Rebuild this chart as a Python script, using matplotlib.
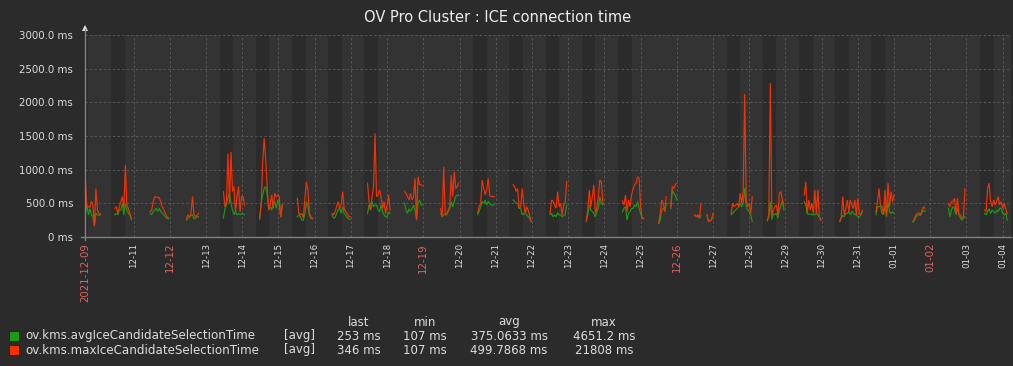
import numpy as np
import pandas as pd
import matplotlib
matplotlib.use("Agg")
import matplotlib.pyplot as plt
from matplotlib.lines import Line2D
from matplotlib.patches import Rectangle, Polygon

W, H = 1013, 366

# ---------------- data ----------------
title = "OV Pro Cluster : ICE connection time"
series_names = ["ov.kms.avgIceCandidateSelectionTime", "ov.kms.maxIceCandidateSelectionTime"]
series_colors = ["#1c9a14", "#f63100"]
legend_func = ["[avg]", "[avg]"]
stat_headers = ["last", "min", "avg", "max"]
stats_avg = ["253 ms", "107 ms", "375.0633 ms", "4651.2 ms"]
stats_max = ["346 ms", "107 ms", "499.7868 ms", "21808 ms"]

y_ticks = [0, 500, 1000, 1500, 2000, 2500, 3000]
y_tick_labels = ["0 ms", "500.0 ms", "1000.0 ms", "1500.0 ms", "2000.0 ms", "2500.0 ms", "3000.0 ms"]

x_start = "2021-12-09 15:45"
x_end = "2022-01-04 05:30"
x_tick_first = "2021-12-11"
x_tick_last = "2022-01-04"
red_days = ["12-12", "12-19", "12-26", "01-02"]
start_label = "2021-12-09"
work_start_hour = 9
work_end_hour = 18

cluster_starts = [
    "2021-12-09 16:00", "2021-12-10 11:30", "2021-12-11 11:00", "2021-12-12 11:00",
    "2021-12-13 11:30", "2021-12-14 11:30", "2021-12-15 12:30", "2021-12-16 11:30",
    "2021-12-17 11:00", "2021-12-18 11:30", "2021-12-19 11:30", "2021-12-20 12:00",
    "2021-12-21 11:30", "2021-12-22 12:00", "2021-12-23 12:00", "2021-12-24 12:00",
    "2021-12-25 12:00", "2021-12-25 20:00", "2021-12-26 12:00", "2021-12-26 20:00",
    "2021-12-27 12:00", "2021-12-28 12:00", "2021-12-29 12:30", "2021-12-30 12:00",
    "2021-12-31 12:00", "2022-01-01 12:30", "2022-01-02 12:00", "2022-01-03 12:00",
]

max_values = [
    [880, 450, 450, 440, 530, 480, 160, 720, 400, 350, 340],
    [425, 450, 350, 450, 525, 600, 420, 1070, 480, 420, 350, 280],
    [375, 400, 525, 600, 590, 590, 580, 525, 450, 400, 350, 300, 290],
    [280, 330, 300, 350, 600, 330, 300, 320, 350],
    [675, 450, 520, 1240, 500, 1265, 675, 750, 375, 600, 750, 375, 600, 600, 475],
    [280, 475, 1095, 1465, 1170, 750, 400, 475, 625, 425, 650, 600, 620, 600, 300, 475],
    [575, 350, 330, 350, 280, 575, 820, 700, 350, 300, 280],
    [350, 330, 375, 450, 525, 425, 475, 675, 425, 375, 350, 300, 300],
    [800, 525, 400, 600, 750, 1540, 600, 625, 700, 600, 425, 525, 350, 475, 625, 400],
    [675, 650, 600, 550, 650, 550, 600, 870, 260, 895, 780, 775, 760],
    [425, 300, 1045, 330, 350, 400, 450, 920, 600, 970, 720, 750, 800],
    [365, 450, 500, 845, 725, 625, 700, 870, 620, 600, 600, 600],
    [775, 750, 675, 720, 425, 450, 720, 500, 350, 450, 400, 320, 230],
    [350, 550, 530, 475, 430, 675, 450, 500, 330, 480, 500, 820],
    [250, 400, 700, 450, 600, 775, 350, 430, 600, 845, 820, 500],
    [535, 475, 625, 375, 550, 450, 625, 720, 775, 800, 895, 870, 450, 280, 280],
    [200, 350, 550, 500, 380, 600],
    [450, 750, 720, 780, 800],
    [330, 300, 330, 280, 490],
    [330, 230, 240, 260, 350],
    [350, 500, 450, 475, 500, 450, 650, 500, 675, 2124, 550, 450, 500, 350, 600],
    [250, 330, 2287, 330, 400, 450, 475, 330, 650, 675, 550, 450],
    [625, 820, 350, 550, 400, 500, 350, 700, 350, 700, 300, 250],
    [230, 300, 600, 330, 425, 550, 375, 550, 475, 425, 550, 330, 575, 350, 330, 400],
    [375, 525, 720, 475, 450, 330, 700, 330, 800, 450, 675, 525, 625],
    [230, 270, 330, 350, 360, 330, 400, 450, 425],
    [500, 450, 525, 525, 575, 350, 575, 330, 330, 280, 300, 720],
    [400, 380, 720, 800, 525, 450, 550, 475, 525, 600, 475, 525, 425, 500, 420, 346],
]

avg_values = [
    [330, 480, 330, 420, 330, 300, 160, 350, 330, 320, 330],
    [330, 350, 330, 400, 400, 500, 330, 500, 400, 350, 330, 260],
    [350, 330, 380, 400, 425, 380, 425, 380, 350, 330, 300, 280, 270],
    [250, 280, 300, 320, 330, 270, 280, 300, 300],
    [280, 420, 475, 600, 650, 500, 400, 330, 380, 330, 350, 330, 350, 340, 330],
    [260, 500, 625, 720, 750, 625, 425, 450, 400, 500, 525, 425, 550, 475, 290, 475],
    [300, 330, 300, 250, 250, 350, 525, 450, 330, 280, 270],
    [330, 280, 290, 350, 400, 425, 350, 450, 350, 330, 290, 270, 260],
    [350, 475, 400, 525, 450, 475, 475, 400, 375, 475, 375, 330, 300, 300, 375, 350],
    [500, 400, 350, 420, 380, 420, 475, 400, 250, 500, 550, 475, 475],
    [350, 300, 330, 330, 330, 375, 425, 525, 450, 525, 600, 620, 620],
    [330, 380, 450, 525, 500, 550, 475, 525, 500, 475, 475, 475],
    [550, 525, 500, 500, 425, 425, 330, 350, 340, 330, 300, 280, 230],
    [330, 350, 300, 330, 300, 360, 330, 330, 300, 320, 330, 470],
    [230, 330, 475, 400, 380, 350, 300, 380, 430, 600, 500, 480],
    [375, 425, 450, 250, 350, 375, 425, 425, 475, 450, 525, 425, 350, 280, 270],
    [200, 250, 400, 430, 380, 500],
    [420, 700, 650, 620, 550],
    [320, 300, 310, 280, 320],
    [320, 230, 240, 255, 330],
    [330, 350, 380, 400, 425, 450, 500, 450, 500, 725, 450, 400, 380, 330, 230],
    [240, 300, 525, 260, 350, 330, 350, 280, 400, 475, 550, 400],
    [525, 475, 340, 340, 340, 330, 340, 330, 350, 330, 290, 250],
    [230, 280, 320, 300, 350, 350, 375, 330, 380, 350, 330, 330, 300, 300, 330, 370],
    [330, 450, 450, 450, 350, 330, 475, 300, 525, 375, 350, 375, 350],
    [220, 250, 300, 320, 330, 320, 360, 400, 380],
    [425, 300, 400, 450, 425, 330, 425, 330, 280, 250, 280, 300],
    [350, 330, 380, 420, 350, 400, 380, 350, 400, 375, 425, 425, 360, 330, 350, 253],
]

# ---------------- styling ----------------
BG = "#2b2b2b"
PLOT_BG = "#333333"
WORK_BG = "#2b2b2b"
GRID = "#575757"
AXIS = "#808080"
TXT = "#dcdcdc"
RED_TXT = "#dc6464"


def fx(px):
    return px / W


def fy(py):
    return 1 - py / H


fig = plt.figure(figsize=(W / 100, H / 100), dpi=100, facecolor=BG)
ax = fig.add_axes([fx(85), fy(237), fx(1011) - fx(85), fy(35) - fy(237)])
ax.set_facecolor(PLOT_BG)

t0 = pd.Timestamp(x_start)
t1 = pd.Timestamp(x_end)

# working-time bands
for day in pd.bdate_range(t0.normalize(), t1.normalize()):
    ax.axvspan(day + pd.Timedelta(hours=work_start_hour),
               day + pd.Timedelta(hours=work_end_hour),
               color=WORK_BG, lw=0, zorder=0.1)

# series
for vals_list, color, z in ((avg_values, series_colors[0], 2), (max_values, series_colors[1], 3)):
    for start, vals in zip(cluster_starts, vals_list):
        times = pd.date_range(start, periods=len(vals), freq="h")
        ax.plot(times, vals, color=color, lw=0.85, zorder=z, solid_joinstyle="miter")

ax.set_xlim(t0, t1)
ax.set_ylim(0, 3000)

# grid
ax.set_axisbelow(True)
ax.grid(True, color=GRID, lw=0.75, linestyle=(0, (2.2, 2.2)))

# ticks
ax.set_yticks(y_ticks)
ax.set_yticklabels(y_tick_labels)
ax.tick_params(axis="y", length=0, pad=8.6, labelsize=7.4, labelcolor=TXT)

tick_days = pd.date_range(x_tick_first, x_tick_last, freq="D")
tick_labels = [d.strftime("%m-%d") for d in tick_days]
ax.set_xticks(tick_days)
ax.set_xticklabels(tick_labels, rotation=90)
ax.tick_params(axis="x", length=0, pad=4.3)
for lab in ax.get_xticklabels():
    if lab.get_text() in red_days:
        lab.set_color(RED_TXT)
        lab.set_fontsize(7.4)
    else:
        lab.set_color(TXT)
        lab.set_fontsize(6.2)

for s in ax.spines.values():
    s.set_visible(False)

# axis lines
fig.add_artist(Line2D([fx(81), fx(1011)], [fy(237), fy(237)], color=AXIS, lw=1.0))
fig.add_artist(Line2D([fx(85), fx(85)], [fy(29), fy(240)], color=AXIS, lw=1.0))
fig.add_artist(Polygon([[fx(82), fy(31)], [fx(88), fy(31)], [fx(85), fy(25)]],
                       closed=True, color="#e8e8e8", lw=0))

# start label
fig.text(fx(85), fy(243), start_label, rotation=90, ha="center", va="top",
         color=RED_TXT, fontsize=7.4)

# title
fig.text(fx(498), fy(17), title, ha="center", va="center", color="#eeeeee", fontsize=10.5)

# legend
row_y = [336, 350]
col_x = [359, 425, 509, 604]
for hx, h in zip(col_x, stat_headers):
    fig.text(fx(hx), fy(322), h, ha="center", va="center", color=TXT, fontsize=8.5)
for i, (name, color, func, stats) in enumerate(zip(series_names, series_colors, legend_func,
                                                    [stats_avg, stats_max])):
    yy = row_y[i]
    fig.add_artist(Rectangle((fx(9), fy(yy + 5)), fx(10) - fx(0), fy(0) - fy(10),
                             facecolor=color, edgecolor="#1a1a1a", lw=0.5))
    fig.text(fx(25), fy(yy), name, ha="left", va="center", color=TXT, fontsize=8.6)
    fig.text(fx(284), fy(yy), func, ha="left", va="center", color=TXT, fontsize=8.5)
    for sx, sv in zip(col_x, stats):
        fig.text(fx(sx), fy(yy), sv, ha="center", va="center", color=TXT, fontsize=8.5)

fig.savefig("out.png", dpi=100, facecolor=BG)
